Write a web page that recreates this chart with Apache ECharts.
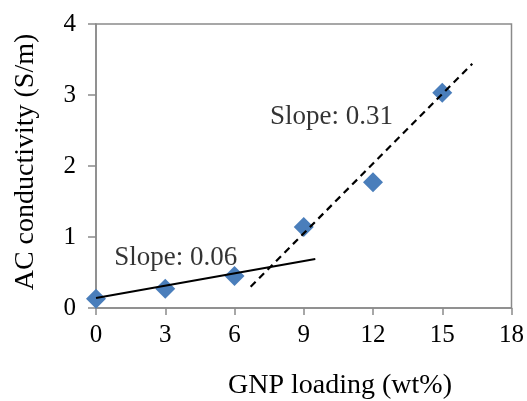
<!DOCTYPE html>
<html>
<head>
<meta charset="utf-8">
<script src="https://cdn.jsdelivr.net/npm/echarts@6/dist/echarts.min.js"></script>
<style>
html,body{margin:0;padding:0;background:#fff;}
#chart{width:527px;height:401px;}
</style>
</head>
<body>
<div id="chart"></div>
<script>
var loading = [0, 3, 6, 9, 12, 15];
var conductivity = [0.13, 0.27, 0.45, 1.14, 1.77, 3.03];
var solidTrend = [[0, 0.14], [9.5, 0.69]];
var dashedTrend = [[6.7, 0.30], [16.3, 3.44]];
var slopeLabels = ['Slope: 0.06', 'Slope: 0.31'];
var slopeLabelPos = [[3.45, 0.70], [10.2, 2.69]];
var xTitle = 'GNP loading (wt%)';
var yTitle = 'AC conductivity (S/m)';

var font = '"Liberation Serif", "Times New Roman", serif';
var axisColor = '#8a8a8a';

var chart = echarts.init(document.getElementById('chart'));
chart.setOption({
  animation: false,
  backgroundColor: '#fff',
  grid: { left: 96, right: 13, top: 24, bottom: 93, show: true, borderColor: axisColor, borderWidth: 1.5 },
  xAxis: {
    type: 'value', min: 0, max: 18, interval: 3,
    axisLine: { show: true, lineStyle: { color: axisColor, width: 1.5 } },
    axisTick: { show: true, length: 7, lineStyle: { color: axisColor, width: 1.5 } },
    splitLine: { show: false },
    axisLabel: { fontFamily: font, fontSize: 25, color: '#000', margin: 15 }
  },
  yAxis: {
    type: 'value', min: 0, max: 4, interval: 1,
    axisLine: { show: true, lineStyle: { color: axisColor, width: 1.5 } },
    axisTick: { show: true, length: 8, lineStyle: { color: axisColor, width: 1.5 } },
    splitLine: { show: false },
    axisLabel: { fontFamily: font, fontSize: 25, color: '#000', margin: 20 }
  },
  graphic: [
    { type: 'text', left: 228, top: 372, style: { text: xTitle, font: '28px ' + font, fill: '#000' } },
    { type: 'text', x: 26, y: 162, rotation: Math.PI / 2,
      style: { text: yTitle, font: '28px ' + font, fill: '#000', align: 'center', verticalAlign: 'middle' } }
  ],
  series: [
    {
      type: 'scatter', symbol: 'diamond', symbolSize: 20, z: 2,
      itemStyle: { color: '#4a7ebb', opacity: 1 },
      data: loading.map(function (x, i) { return [x, conductivity[i]]; })
    },
    {
      type: 'line', data: solidTrend, symbol: 'none', z: 3,
      lineStyle: { color: '#000', width: 2 }
    },
    {
      type: 'line', data: dashedTrend, symbol: 'none', z: 3,
      lineStyle: { color: '#000', width: 2.2, type: [7, 5] }
    },
    {
      type: 'scatter', symbolSize: 0, z: 4, silent: true,
      data: slopeLabelPos.map(function (p, i) { return { value: p, name: slopeLabels[i] }; }),
      label: { show: true, position: 'inside', formatter: '{b}', fontFamily: font, fontSize: 27, color: '#000' }
    }
  ]
});
</script>
</body>
</html>
